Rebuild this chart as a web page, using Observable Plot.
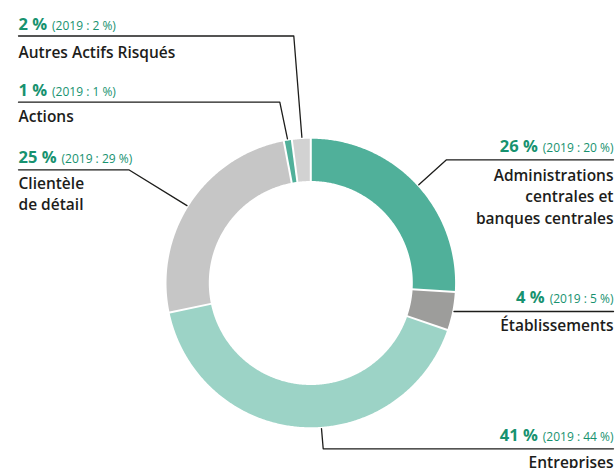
<!DOCTYPE html>
<html><head><meta charset="utf-8">
<script src="https://cdn.jsdelivr.net/npm/d3@7"></script>
<script src="https://cdn.jsdelivr.net/npm/@observablehq/plot@0.6"></script>
<style>body{margin:0;background:#fff}#chart{width:616px;height:468px;overflow:hidden}</style>
</head><body><div id="chart"></div>
<script>
// ---- data (clockwise from 12 o'clock) ----
const categories = ["Administrations\ncentrales et\nbanques centrales", "Établissements", "Entreprises", "Clientèle\nde détail", "Actions", "Autres Actifs Risqués"];
const pct2020 = [26, 4, 41, 25, 1, 2];
const pct2019 = [20, 5, 44, 29, 1, 2];
const shares = [26.0, 4.3, 41.5, 25.3, 0.9, 2.1]; // arc sizes
const colors = ["#50b09a", "#9d9d9b", "#9cd3c6", "#c6c6c6", "#50b09a", "#d2d2d2"];

// ---- layout ----
const W = 616, H = 468;
const cx = 310.3, cy = 282.5, R = 144.3, r0 = 102, RA = 146;
const layout = [
  {side: "right", pctY: 151.7, ruleY: 159.3, labelY: 180, elbowX: 446, angle: 47.7},
  {side: "right", pctY: 302.7, ruleY: 311, labelY: 330.7, elbowX: null, angle: 101.3},
  {side: "right", pctY: 440, ruleY: 448.3, labelY: 467.5, elbowX: 322.7, angle: 175.8},
  {side: "left", pctY: 162.7, ruleY: 169.3, labelY: 188.3, elbowX: 128.3, angle: 302},
  {side: "left", pctY: 95, ruleY: 101.7, labelY: 121.7, elbowX: 279.3, angle: 350.8},
  {side: "left", pctY: 29.3, ruleY: 35.5, labelY: 57.3, elbowX: 293.3, angle: 356.5}
];
const leftX = 18, rightX = 613, lineGap = 21.5;
const GREEN = "#17926f", INK = "#1d1d1b";
const FONT = "Open Sans";

const rad = d => d * Math.PI / 180;
const px = (a, rr) => cx + rr * Math.sin(rad(a));
const py = (a, rr) => cy - rr * Math.cos(rad(a));

// slices
const total = d3.sum(shares);
let acc = 0;
const slices = shares.map((s, i) => {
  const a0 = acc / total * 360; acc += s; const a1 = acc / total * 360;
  return {i, a0, a1};
});
const arcPts = [];
for (const s of slices) {
  const n = Math.max(2, Math.ceil((s.a1 - s.a0) / 0.5));
  for (let k = 0; k <= n; k++) { const a = s.a0 + (s.a1 - s.a0) * k / n; arcPts.push({z: s.i, x: px(a, R), y: py(a, R), c: colors[s.i]}); }
  for (let k = n; k >= 0; k--) { const a = s.a0 + (s.a1 - s.a0) * k / n; arcPts.push({z: s.i, x: px(a, r0), y: py(a, r0), c: colors[s.i]}); }
}
const seps = slices.map(s => ({x1: px(s.a0, r0 - 1), y1: py(s.a0, r0 - 1), x2: px(s.a0, R + 1), y2: py(s.a0, R + 1)}));

// text measuring
const ctx = document.createElement("canvas").getContext("2d");
const measure = (t, font) => { ctx.font = font; return ctx.measureText(t).width; };
const BIG = {size: 16.5, weight: 700}, SMALL = {size: 12, weight: 400}, LAB = {size: 15.5, weight: 600};
const gap = 5;

const texts = {left: {big: [], small: [], label: []}, right: {big: [], small: [], label: []}};
const leaders = [];
layout.forEach((L, i) => {
  const big = `${pct2020[i]} %`, small = `(2019 : ${pct2019[i]} %)`;
  const wb = measure(big, `${BIG.weight} ${BIG.size}px "${FONT}"`);
  const ws = measure(small, `${SMALL.weight} ${SMALL.size}px "${FONT}"`);
  const T = texts[L.side];
  if (L.side === "left") {
    T.big.push({x: leftX, y: L.pctY, t: big});
    T.small.push({x: leftX + wb + gap, y: L.pctY, t: small});
  } else {
    T.small.push({x: rightX, y: L.pctY, t: small});
    T.big.push({x: rightX - ws - gap, y: L.pctY, t: big});
  }
  categories[i].split("\n").forEach((line, k) => {
    T.label.push({x: L.side === "left" ? leftX : rightX, y: L.labelY + k * lineGap, t: line});
  });
  const edge = L.side === "left" ? leftX : rightX;
  const ax = px(L.angle, RA), ay = py(L.angle, RA);
  leaders.push({z: i, x: edge, y: L.ruleY});
  if (L.elbowX != null) { leaders.push({z: i, x: L.elbowX, y: L.ruleY}); leaders.push({z: i, x: ax, y: ay}); }
  else leaders.push({z: i, x: ax, y: L.ruleY});
});

const textMarks = [];
for (const side of ["left", "right"]) {
  const anchor = side === "left" ? "start" : "end";
  const T = texts[side];
  textMarks.push(
    Plot.text(T.big, {x: "x", y: "y", text: "t", textAnchor: anchor, lineAnchor: "bottom", fontSize: BIG.size, fontWeight: BIG.weight, fill: GREEN}),
    Plot.text(T.small, {x: "x", y: "y", text: "t", textAnchor: anchor, lineAnchor: "bottom", fontSize: SMALL.size, fontWeight: SMALL.weight, fill: GREEN}),
    Plot.text(T.label, {x: "x", y: "y", text: "t", textAnchor: anchor, lineAnchor: "bottom", fontSize: LAB.size, fontWeight: LAB.weight, fill: INK})
  );
}

const chart = Plot.plot({
  width: W, height: H, margin: 0,
  x: {domain: [0, W], range: [0, W], axis: null},
  y: {domain: [0, H], range: [0, H], axis: null},
  color: {type: "identity"},
  style: {fontFamily: FONT, background: "white"},
  marks: [
    Plot.line(arcPts, {x: "x", y: "y", z: "z", fill: "c", stroke: null, curve: "linear-closed"}),
    Plot.link(seps, {x1: "x1", y1: "y1", x2: "x2", y2: "y2", stroke: "white", strokeWidth: 2}),
    Plot.line(leaders, {x: "x", y: "y", z: "z", stroke: INK, strokeWidth: 1.3}),
    ...textMarks
  ]
});
document.getElementById("chart").appendChild(chart);
</script>
</body></html>
